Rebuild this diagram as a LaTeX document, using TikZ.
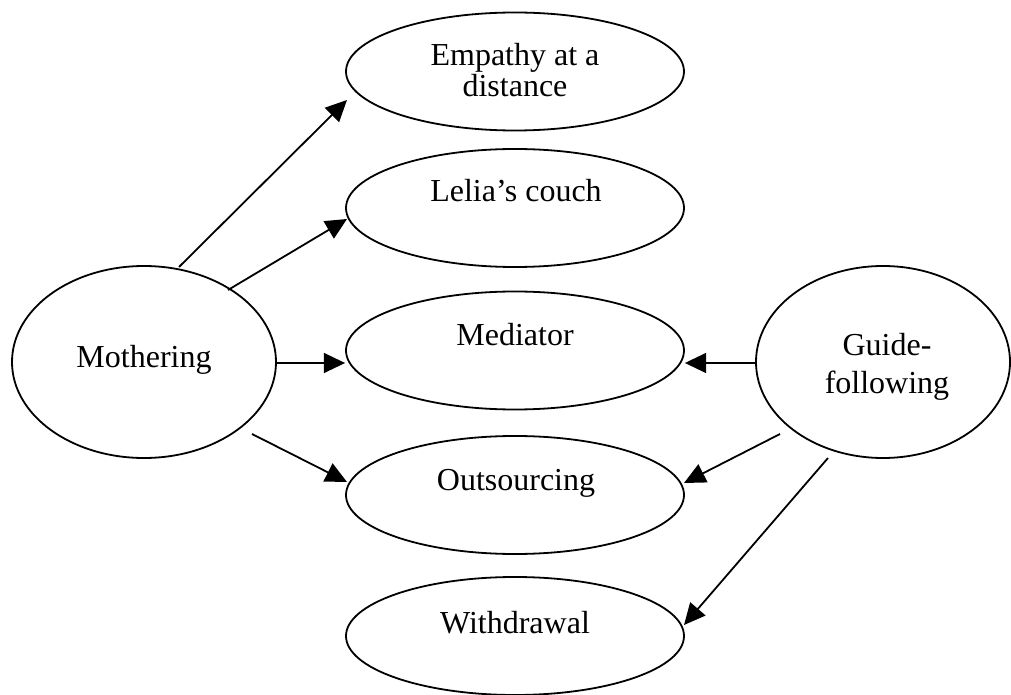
\documentclass[tikz,border=0pt]{standalone}
\usepackage{fontspec}
\setmainfont{Liberation Serif}
\usetikzlibrary{shapes.geometric,arrows.meta,calc}

\tikzset{
  oval/.style={draw, ellipse, line width=1.35pt, inner sep=0pt,
               minimum width=253.5pt, minimum height=88.5pt},
  bigoval/.style={draw, ellipse, line width=1.35pt, inner sep=0pt,
               minimum height=144pt},
  lbl/.style={anchor=base, inner sep=0pt, font=\fontsize{24}{28}\selectfont},
  link/.style={line width=1.35pt, -{Triangle[length=16pt,width=15pt]}}
}

\begin{document}
\begin{tikzpicture}[x=0.75pt, y=-0.75pt]
  % page area
  \fill[white] (0,0) rectangle (1011,695);
  \useasboundingbox (0,0) rectangle (1011,695);

  % central column of outcomes
  \node[oval] (emp) at (515,71.5) {};
  \node[oval] (lel) at (515,208) {};
  \node[oval] (med) at (515,350.5) {};
  \node[oval] (out) at (515,495) {};
  \node[oval] (wd)  at (515,636) {};

  % the two sources
  \node[bigoval, minimum width=198pt] (moth) at (144,362) {};
  \node[bigoval, minimum width=190.5pt] (guide) at (883,362) {};

  % labels
  \node[lbl] (empA) at ($(emp)+(0,-5.5)$) {Empathy at a};
  \node[lbl] (empB) at ($(emp)+(0,25.5)$) {distance};
  \node[lbl] (lelT) at ($(lel)+(1,-6)$) {Lelia’s couch};
  \node[lbl] (medT) at ($(med)+(0,-4.5)$) {Mediator};
  \node[lbl] (outT) at ($(out)+(1,-5)$) {Outsourcing};
  \node[lbl] (wdT)  at ($(wd)+(0,-3)$) {Withdrawal};
  \node[lbl] (mothT) at ($(moth)+(0,6)$) {Mothering};
  \node[lbl] (guideA) at ($(guide)+(4,-6)$) {Guide-};
  \node[lbl] (guideB) at ($(guide)+(4,31.5)$) {following};

  % connectors from Mothering
  \draw[link] ($(moth)+(35,-95)$) -- ($(emp)+(-168,28.5)$);
  \draw[link] ($(moth)+(84,-72)$) -- ($(lel)+(-168,11)$);
  \draw[link] ($(moth.east)+(0,1)$) -- ($(moth.east -| med.west)+(0,1)$);
  \draw[link] ($(moth)+(108,72)$) -- ($(out)+(-168,-13)$);

  % connectors from Guide-following
  \draw[link] ($(guide.west)+(0,1)$) -- ($(guide.west -| med.east)+(0,1)$);
  \draw[link] ($(guide)+(-103,72)$) -- ($(out)+(169,-12)$);
  \draw[link] ($(guide)+(-55,96)$) -- ($(wd)+(169,-11)$);
\end{tikzpicture}
\end{document}
